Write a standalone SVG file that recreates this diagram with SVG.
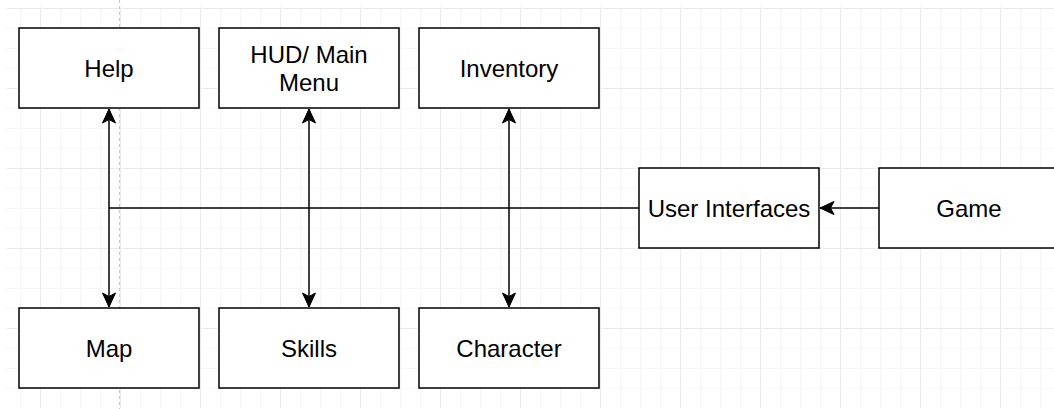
<svg xmlns="http://www.w3.org/2000/svg" width="1054" height="409" viewBox="0 0 1054 409">
<defs>
<pattern id="grid" patternUnits="userSpaceOnUse" x="40" y="8" width="80" height="80">
<rect x="0" y="0" width="80" height="80" fill="#ffffff"/>
<g fill="#f6f6f6">
<rect x="20" y="0" width="1" height="80"/>
<rect x="40" y="0" width="1" height="80"/>
<rect x="60" y="0" width="1" height="80"/>
<rect x="0" y="20" width="80" height="1"/>
<rect x="0" y="40" width="80" height="1"/>
<rect x="0" y="60" width="80" height="1"/>
</g>
<g fill="#ebebeb">
<rect x="0" y="0" width="1" height="80"/>
<rect x="0" y="0" width="80" height="1"/>
</g>
</pattern>
<marker id="arrow" markerUnits="userSpaceOnUse" viewBox="-15 -8 16 16" refX="0" refY="0" markerWidth="16" markerHeight="16" orient="auto-start-reverse">
<path d="M0,0 L-14,-6.5 L-10.5,0 L-14,6.5 Z" fill="#000" stroke="#000" stroke-width="1" stroke-linejoin="miter"/>
</marker>
</defs>
<style>
.box{fill:#ffffff;stroke:#000000;stroke-width:1.5}
.lbl{font-family:"Liberation Sans",Arial,Helvetica,sans-serif;font-size:24px;fill:#000000;text-anchor:middle}
.edge{fill:none;stroke:#000000;stroke-width:1.5}
</style>
<rect x="0" y="0" width="1054" height="409" fill="#ffffff"/>
<rect x="6" y="7" width="1048" height="401" fill="url(#grid)"/>
<line x1="119.5" y1="0" x2="119.5" y2="409" stroke="#c8c8c8" stroke-width="1" stroke-dasharray="3,3"/>
<g id="connectors">
<path class="edge" d="M109,109 L109,307" marker-start="url(#arrow)" marker-end="url(#arrow)"/>
<path class="edge" d="M309,109 L309,307" marker-start="url(#arrow)" marker-end="url(#arrow)"/>
<path class="edge" d="M509,109 L509,307" marker-start="url(#arrow)" marker-end="url(#arrow)"/>
<path class="edge" d="M109,208 L639,208"/>
<path class="edge" d="M879,208 L820,208" marker-end="url(#arrow)"/>
</g>
<g id="help"><rect class="box" x="19" y="28" width="180" height="80"/><text class="lbl" x="109" y="77">Help</text></g>
<g id="hud"><rect class="box" x="219" y="28" width="180" height="80"/><text class="lbl" x="309" y="63">HUD/ Main</text><text class="lbl" x="309" y="91">Menu</text></g>
<g id="inventory"><rect class="box" x="419" y="28" width="180" height="80"/><text class="lbl" x="509" y="77">Inventory</text></g>
<g id="map"><rect class="box" x="19" y="308" width="180" height="80"/><text class="lbl" x="109" y="357">Map</text></g>
<g id="skills"><rect class="box" x="219" y="308" width="180" height="80"/><text class="lbl" x="309" y="357">Skills</text></g>
<g id="character"><rect class="box" x="419" y="308" width="180" height="80"/><text class="lbl" x="509" y="357">Character</text></g>
<g id="user-interfaces"><rect class="box" x="639" y="168" width="180" height="80"/><text class="lbl" x="729" y="217">User Interfaces</text></g>
<g id="game"><rect class="box" x="879" y="168" width="180" height="80"/><text class="lbl" x="969" y="217">Game</text></g>
</svg>
